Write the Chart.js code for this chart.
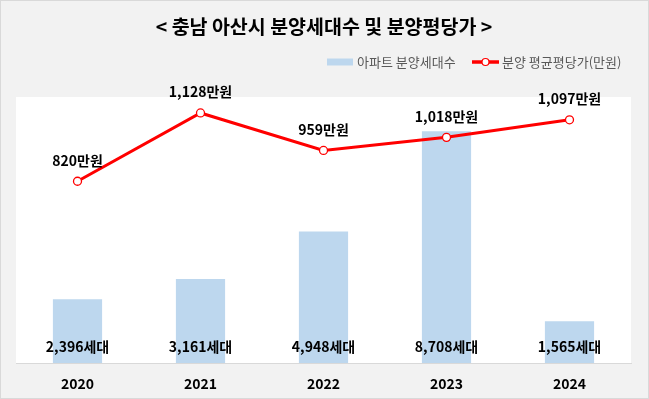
<!DOCTYPE html>
<html>
<head>
<meta charset="utf-8">
<script src="https://cdn.jsdelivr.net/npm/chart.js@4.4.1/dist/chart.umd.min.js"></script>
<style>
html,body{margin:0;padding:0;background:#ffffff;}
#wrap{position:relative;width:649px;height:399px;}
canvas{display:block;}
</style>
</head>
<body>
<div id="wrap"><canvas id="c" width="649" height="399"></canvas></div>
<script>
const TITLE = '< 충남 아산시 분양세대수 및 분양평당가 >';
const categories = ['2020', '2021', '2022', '2023', '2024'];
const households = [2396, 3161, 4948, 8708, 1565];
const avgPrice = [820, 1128, 959, 1018, 1097];
const barLabel = '아파트 분양세대수';
const lineLabel = '분양 평균평당가(만원)';
const householdUnit = '세대';
const priceUnit = '만원';

const FONT = '"Noto Sans CJK KR", "Noto Sans", sans-serif';
const BAR_COLOR = '#bdd7ee';
const LINE_COLOR = '#ff0000';

function fmt(v){ return v.toLocaleString('en-US'); }

const decorPlugin = {
  id: 'decor',
  beforeDraw(chart){
    const {ctx, chartArea:a, width, height} = chart;
    ctx.save();
    ctx.fillStyle = '#f2f2f2';
    ctx.fillRect(0,0,width,height);
    ctx.strokeStyle = '#d9d9d9';
    ctx.lineWidth = 1;
    ctx.strokeRect(0.5,0.5,width-1,height-1);
    ctx.fillStyle = '#ffffff';
    ctx.fillRect(a.left, a.top, a.right-a.left, a.bottom-a.top);
    // title
    ctx.fillStyle = '#000000';
    ctx.font = 'bold 19.5px ' + FONT;
    ctx.textAlign = 'center';
    ctx.textBaseline = 'middle';
    ctx.fillText(TITLE, 324, 27);
    // legend
    ctx.font = '13px ' + FONT;
    ctx.textAlign = 'left';
    const ly = 62;
    ctx.fillStyle = BAR_COLOR;
    ctx.fillRect(327, ly-3.5, 26, 7);
    ctx.fillStyle = '#595959';
    ctx.fillText(barLabel, 357, ly);
    ctx.strokeStyle = LINE_COLOR;
    ctx.lineWidth = 3.5;
    ctx.beginPath(); ctx.moveTo(472, ly); ctx.lineTo(499, ly); ctx.stroke();
    ctx.beginPath(); ctx.arc(485.5, ly, 3.5, 0, Math.PI*2);
    ctx.fillStyle = '#ffffff'; ctx.fill();
    ctx.lineWidth = 1.2; ctx.stroke();
    ctx.fillStyle = '#595959';
    ctx.fillText(lineLabel, 502, ly);
    ctx.restore();
  },
  afterDatasetsDraw(chart){
    const {ctx, chartArea:a} = chart;
    ctx.save();
    ctx.fillStyle = '#000000';
    ctx.font = 'bold 14px ' + FONT;
    ctx.textAlign = 'center';
    ctx.textBaseline = 'middle';
    const barMeta = chart.getDatasetMeta(0);
    barMeta.data.forEach((el, i) => {
      ctx.fillText(fmt(households[i]) + householdUnit, el.x, a.bottom - 16);
    });
    const lineMeta = chart.getDatasetMeta(1);
    lineMeta.data.forEach((el, i) => {
      ctx.fillText(fmt(avgPrice[i]) + priceUnit, el.x, el.y - 21);
    });
    ctx.restore();
  }
};

new Chart(document.getElementById('c'), {
  data: {
    labels: categories,
    datasets: [
      {
        type: 'bar',
        label: barLabel,
        data: households,
        backgroundColor: BAR_COLOR,
        borderWidth: 0,
        categoryPercentage: 1.0,
        barPercentage: 0.4,
        yAxisID: 'yBar',
        order: 2
      },
      {
        type: 'line',
        label: lineLabel,
        data: avgPrice,
        borderColor: LINE_COLOR,
        borderWidth: 3,
        pointRadius: 4,
        pointBackgroundColor: '#ffffff',
        pointBorderColor: LINE_COLOR,
        pointBorderWidth: 1.3,
        tension: 0,
        yAxisID: 'yLine',
        order: 1
      }
    ]
  },
  options: {
    responsive: false,
    animation: false,
    devicePixelRatio: 1,
    layout: { padding: { top: 97, left: 16, right: 18, bottom: 0 } },
    plugins: { legend: { display: false }, title: { display: false }, tooltip: { enabled: false } },
    scales: {
      x: {
        grid: { display: false, drawTicks: false },
        border: { display: true, color: '#d9d9d9', width: 1 },
        ticks: { color: '#000000', font: { family: FONT, size: 14, weight: 'bold' }, padding: 12 },
        afterFit(scale){ scale.height = 36; }
      },
      yBar: { display: false, min: 0, max: 10000, position: 'left' },
      yLine: { display: false, min: 0, max: 1200, position: 'right' }
    }
  },
  plugins: [decorPlugin]
});
</script>
</body>
</html>
